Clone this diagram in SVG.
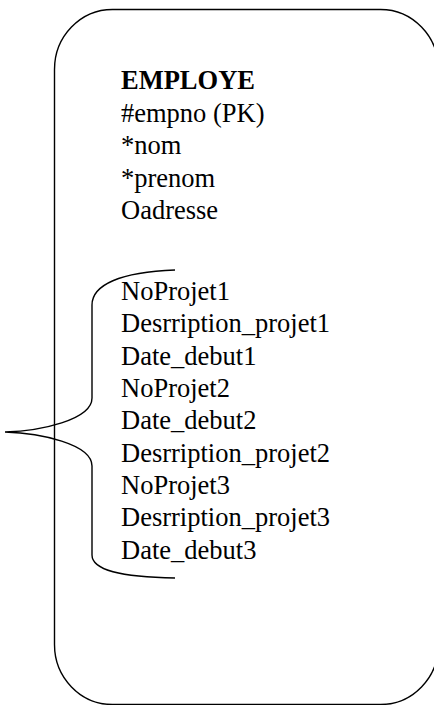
<svg xmlns="http://www.w3.org/2000/svg" width="434" height="705" viewBox="0 0 434 705">
<style>
.t{font-family:"Liberation Serif","Times New Roman",serif;font-size:26.5px;fill:#000}
.b{font-weight:bold}
.ln{fill:none;stroke:#000;stroke-width:1.4}
</style>
<rect width="434" height="705" fill="#fff"/>
<g id="employe">
<rect class="ln" x="54.5" y="9.5" width="384" height="695" rx="58" ry="60"/>
<text class="t b" x="121" y="89">EMPLOYE</text>
<text class="t" x="121" y="122">#empno (PK)</text>
<text class="t" x="121" y="154">*nom</text>
<text class="t" x="121" y="187">*prenom</text>
<text class="t" x="121" y="219">Oadresse</text>
<text class="t" x="121" y="300">NoProjet1</text>
<text class="t" x="121" y="332">Desrription_projet1</text>
<text class="t" x="121" y="365">Date_debut1</text>
<text class="t" x="121" y="397">NoProjet2</text>
<text class="t" x="121" y="429">Date_debut2</text>
<text class="t" x="121" y="462">Desrription_projet2</text>
<text class="t" x="121" y="494">NoProjet3</text>
<text class="t" x="121" y="526">Desrription_projet3</text>
<text class="t" x="121" y="559">Date_debut3</text>
</g>
<g id="connectors">
<path class="ln" d="M175,270 C120,272 92,285 92,305 L92,398 C92,420 40,431 5,432 C40,433 92,444 92,466 L92,555 C92,570 120,577 175,578"/>
</g>
</svg>
